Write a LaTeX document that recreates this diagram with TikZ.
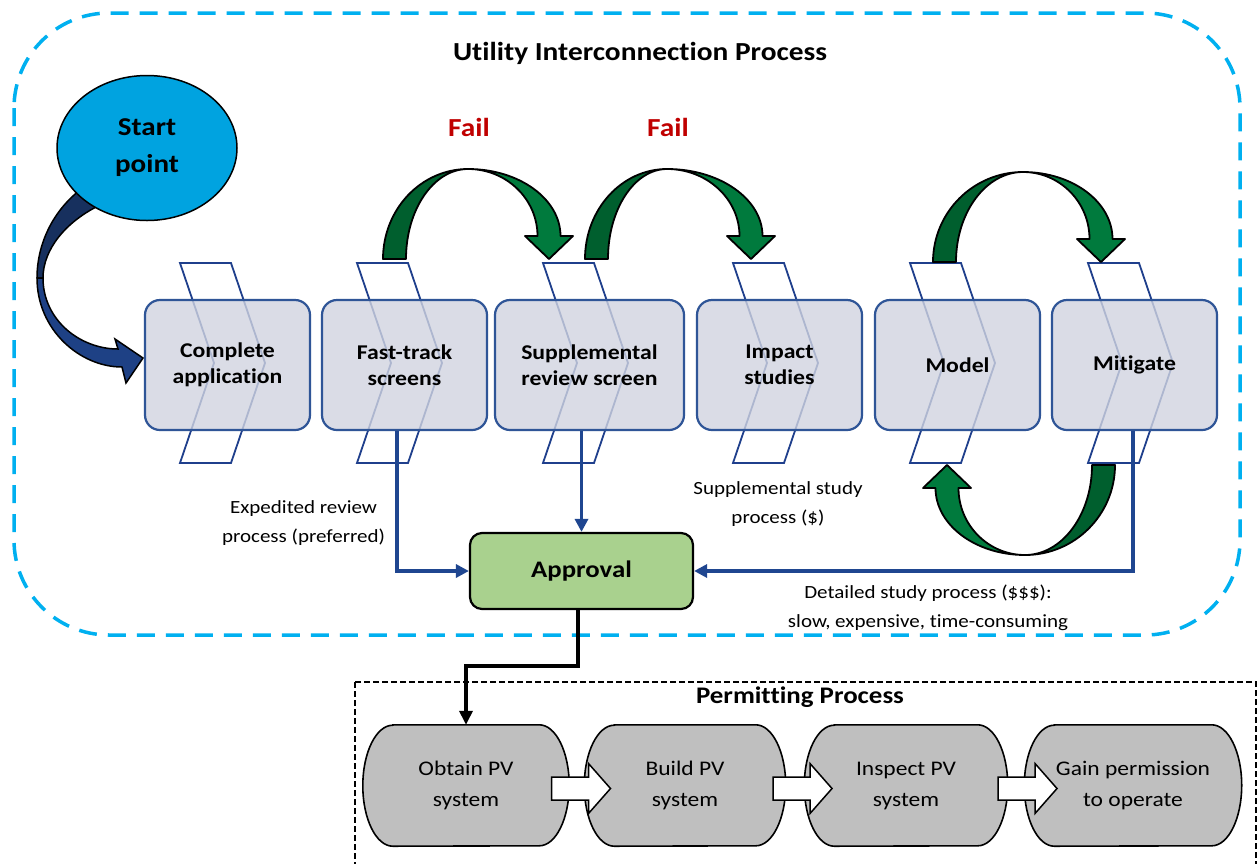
\documentclass[tikz,border=0pt]{standalone}
\usepackage{fontspec}
\setmainfont{Carlito}[FakeStretch=1.13,Ligatures=NoCommon]
\usetikzlibrary{arrows.meta,calc,shapes.geometric}
\pgfdeclarelayer{bg}
\pgfsetlayers{bg,main}
\definecolor{boxfill}{HTML}{D1D4E0}
\definecolor{boxdraw}{HTML}{2F5597}
\definecolor{chevdraw}{HTML}{1F3F8C}
\definecolor{connblue}{HTML}{1F4690}
\definecolor{dashblue}{HTML}{00B0F0}
\definecolor{startfill}{HTML}{00A3E0}
\definecolor{apprfill}{HTML}{A9D18E}
\definecolor{pillfill}{HTML}{BFBFBF}
\definecolor{failred}{HTML}{C00000}
\definecolor{gdark}{HTML}{005F2E}
\definecolor{glight}{HTML}{007A3D}
\definecolor{ndark}{HTML}{17305E}
\definecolor{nlight}{HTML}{1E4185}
\newcommand\gcurvearrow[6]{%
  \pgfmathsetmacro\gxo{#3+11.5}%
  \pgfmathsetmacro\gxi{#3-11.5}%
  \fill[gdark,draw=black,line width=1.8pt,line join=round]
    (#1,#5) .. controls (#1,{#5+0.5523*(#4-#5)}) and ({#2-0.5523*(#2-#1)},#4) .. (#2,#4)
    .. controls ({#2-0.5523*(#2-#1-23)},#4) and ({#1+23},{#5+0.5523*(#4-#5)}) .. ({#1+23},#5) -- cycle;
  \fill[glight,draw=black,line width=1.8pt,line join=round]
    (#2,#4) .. controls ({#2+0.5523*(\gxo-#2)},#4) and (\gxo,{#6-0.5523*(#6-#4)}) .. (\gxo,#6)
    -- ({#3+24},#6) -- (#3,#5) -- ({#3-24},#6) -- (\gxi,#6)
    .. controls (\gxi,{#6-0.5523*(#6-#4)}) and ({#2+0.5523*(\gxi-#2)},#4) .. (#2,#4) -- cycle;
}
\newcommand\wblockarrow[2]{%
  \draw[fill=white,draw=black,line width=1.5pt,line join=miter]
    (#1,{#2-11.5}) -- ({#1+37},{#2-11.5}) -- ({#1+37},{#2-25}) -- ({#1+59},#2)
    -- ({#1+37},{#2+25}) -- ({#1+37},{#2+11.5}) -- (#1,{#2+11.5}) -- cycle;
}
\begin{document}
\begin{tikzpicture}[x=1pt,y=-1pt,
  procbox/.style={draw=boxdraw,line width=2.2pt,fill=boxfill,fill opacity=0.8,text opacity=1,
    rounded corners=15pt,minimum height=130pt,inner sep=0pt,align=center,
    font=\fontsize{21}{26}\selectfont\bfseries},
  chevron/.style={draw=chevdraw,line width=1.8pt,fill=white,line join=miter},
  bconn/.style={draw=connblue,line width=3.2pt,-{Triangle[length=13pt,width=13pt]}},
  kconn/.style={draw=black,line width=3.5pt,-{Triangle[length=14pt,width=13pt]}},
  pillnode/.style={draw=none,minimum height=121pt,inner sep=0pt,align=center,
    font=\fontsize{20.8}{31}\selectfont},
  pillshape/.style={draw=black,line width=1.6pt,fill=pillfill},
  lbl/.style={align=center,inner sep=0pt,font=\fontsize{18.6}{29}\selectfont}]
\useasboundingbox (0,0) rectangle (1258,863);
\clip (0,0) rectangle (1258,863);

% containers
\draw[dashblue,line width=3.5pt,dash pattern=on 18pt off 11pt,rounded corners=95pt]
  (14,13) rectangle (1240,635);
\draw[black,line width=1.5pt,dash pattern=on 6pt off 3pt] (355,682) rectangle (1256,900);

\node[font=\fontsize{26}{31}\selectfont\bfseries] (title) at (640,53) {Utility Interconnection Process};
\node[font=\fontsize{23.8}{28}\selectfont\bfseries] (ptitle) at (800,697) {Permitting Process};

% chevrons
\foreach \cx in {180,357,543,733,910,1088}
  \path[chevron] (\cx,263) -- ({\cx+51},263) -- ({\cx+85},363) -- ({\cx+51},463)
    -- (\cx,463) -- ({\cx+34},363) -- cycle;

% boxes
\node[procbox,minimum width=165pt] (ca) at (227.5,365) {Complete\\application};
\node[procbox,minimum width=165pt] (ft) at (404.5,365) {Fast-track\\screens};
\node[procbox,minimum width=189pt] (sup) at (589.5,365) {Supplemental\\review screen};
\node[procbox,minimum width=165pt] (imp) at (779.5,365) {Impact\\studies};
\node[procbox,minimum width=165pt] (mod) at (957.5,365) {Model};
\node[procbox,minimum width=165pt] (mit) at (1134.5,365) {Mitigate};

% green curved arrows
\gcurvearrow{383}{468}{549}{169}{259}{236}
\gcurvearrow{585}{667}{751}{169}{259}{236}
\gcurvearrow{933}{1023}{1101}{172}{262}{239}
\begin{scope}[rotate around={180:(1024,363.5)}]
\gcurvearrow{933}{1023}{1101}{172}{262}{239}
\end{scope}

\node[font=\fontsize{26}{31}\selectfont\bfseries,text=failred] (fail1) at (469,127) {Fail};
\node[font=\fontsize{26}{31}\selectfont\bfseries,text=failred] (fail2) at (668,127) {Fail};

% navy start arrow
\fill[ndark,draw=black,line width=1.5pt,line join=round]
  (80,190) .. controls (52,212) and (37,245) .. (37,278)
  -- (43,278) .. controls (43,250) and (65,222) .. (100,205) -- cycle;
\fill[nlight,draw=black,line width=1.5pt,line join=miter]
  (37,278) .. controls (37,330) and (80,367) .. (122,367)
  -- (126,383) -- (143,358) -- (115,339) -- (118,349)
  .. controls (80,349) and (43,320) .. (43,278) -- cycle;

\node[draw=black,line width=1.5pt,fill=startfill,ellipse,minimum width=180pt,minimum height=145pt,
  inner sep=0pt,align=center,font=\fontsize{25.7}{37}\selectfont\bfseries] (start) at (147,148) {Start\\point};

% permitting pills
\node[pillnode,minimum width=146pt] (obt) at (466,785.5) {Obtain PV\\system};
\node[pillnode,minimum width=141pt] (bld) at (685,785.5) {Build PV\\system};
\node[pillnode,minimum width=143pt] (ins) at (906,785.5) {Inspect PV\\system};
\node[pillnode,minimum width=157pt] (gain) at (1133,785.5) {Gain permission\\to operate};
\begin{pgfonlayer}{bg}
\fill[white] (0,0) rectangle (1258,863);
\foreach \n in {obt,bld,ins,gain}
  \draw[pillshape] (\n.north west) -- (\n.north east)
    arc[start angle=-90,end angle=90,x radius=30,y radius=60.5]
    -- (\n.south west) arc[start angle=90,end angle=270,x radius=30,y radius=60.5] -- cycle;
\end{pgfonlayer}
\wblockarrow{551.5}{788.5}
\wblockarrow{773}{788.5}
\wblockarrow{998}{788.5}

% approval
\node[draw=black,line width=2.2pt,fill=apprfill,rounded corners=12pt,minimum width=223pt,
  minimum height=76pt,inner sep=0pt,font=\fontsize{23.7}{28}\selectfont\bfseries] (appr) at (581.5,571) {Approval};

\draw[bconn] ([xshift=-7.5pt]ft.south) |- (appr.west);
\draw[bconn] (sup.south -| appr.north) -- (appr.north);
\draw[bconn] ([xshift=-1.5pt]mit.south) |- (appr.east);
\draw[kconn] ([xshift=-3.5pt]appr.south) -- ++(0,56) -| (obt.north);

\node[lbl] (lexp) at (303.5,523) {Expedited review\\process (preferred)};
\node[lbl] (lsup) at (778,504) {Supplemental study\\process (\$)};
\node[lbl] (ldet) at (928,608) {Detailed study process (\$\$\$):\\slow, expensive, time-consuming};
\end{tikzpicture}
\end{document}
